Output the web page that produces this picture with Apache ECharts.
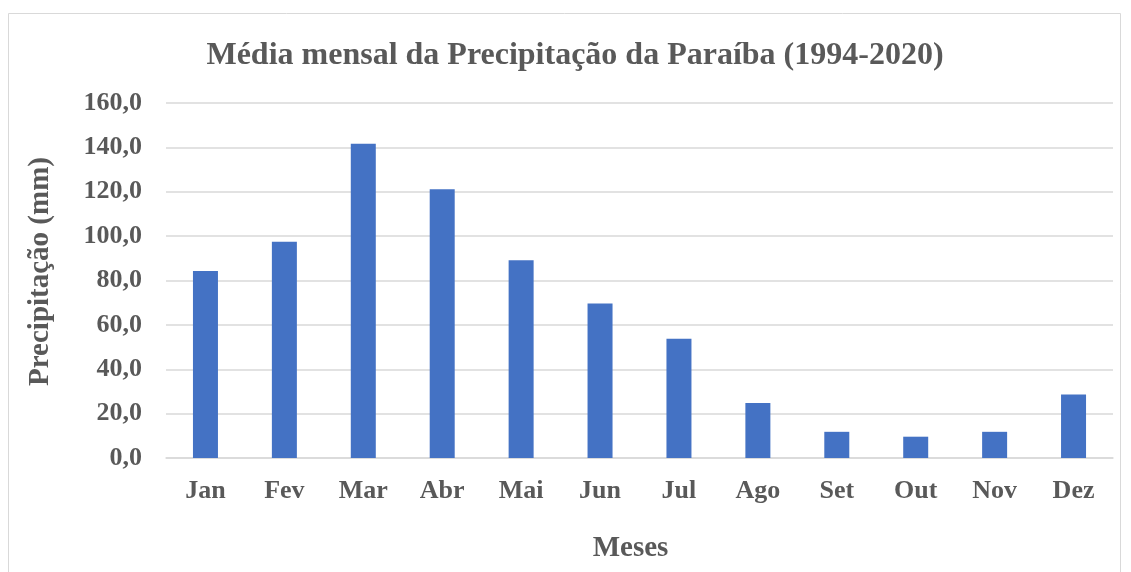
<!DOCTYPE html>
<html><head><meta charset="utf-8">
<script src="https://cdn.jsdelivr.net/npm/echarts@6/dist/echarts.min.js"></script>
<style>html,body{margin:0;padding:0;background:#fff}#c{width:1131px;height:572px}</style>
</head><body><div id="c"></div>
<script>
const categories = ['Jan','Fev','Mar','Abr','Mai','Jun','Jul','Ago','Set','Out','Nov','Dez'];
const precipitation = [84.3, 97.5, 141.6, 121.1, 89.1, 69.6, 53.8, 24.8, 11.8, 9.6, 11.8, 28.6];
const titleText = 'Média mensal da Precipitação da Paraíba (1994-2020)';
const yName = 'Precipitação (mm)';
const xName = 'Meses';

const font = '"Liberation Serif", "Times New Roman", serif';
const grey = '#595959';
const chart = echarts.init(document.getElementById('c'), null, {renderer:'canvas'});
chart.setOption({
  animation: false,
  backgroundColor: '#fff',
  graphic: [{
    type: 'rect', shape: {x: 8.5, y: 13.5, width: 1112, height: 580},
    style: {fill: 'none', stroke: '#d9d9d9', lineWidth: 1}, silent: true
  }],
  title: {
    text: titleText, left: 570, top: 35, textAlign: 'center',
    textStyle: {fontFamily: font, fontSize: 32, fontWeight: 'bold', color: grey}
  },
  grid: {left: 166, right: 18, top: 103, bottom: 114, containLabel: false, outerBoundsMode: 'none'},
  xAxis: {
    type: 'category', data: categories,
    name: xName, nameLocation: 'middle', nameGap: 76,
    nameTextStyle: {fontFamily: font, fontSize: 29, fontWeight: 'bold', color: grey, padding: [0, 18, 0, 0]},
    axisLine: {show: true, lineStyle: {color: '#d9d9d9', width: 1.5}},
    axisTick: {show: false},
    axisLabel: {fontFamily: font, fontSize: 26, fontWeight: 'bold', color: grey, margin: 20}
  },
  yAxis: {
    type: 'value', min: 0, max: 160, interval: 20,
    name: yName, nameLocation: 'middle', nameGap: 111, nameRotate: 90,
    nameTextStyle: {fontFamily: font, fontSize: 29, fontWeight: 'bold', color: grey, padding: [0, 0, 0, 18]},
    axisLine: {show: false}, axisTick: {show: false},
    splitLine: {lineStyle: {color: '#d9d9d9', width: 1.5}},
    axisLabel: {fontFamily: font, fontSize: 26, fontWeight: 'bold', color: grey, margin: 24,
      formatter: v => v.toFixed(1).replace('.', ',')}
  },
  series: [{
    type: 'bar', data: precipitation, barWidth: 25,
    itemStyle: {color: '#4472c4'}
  }]
});
</script></body></html>
